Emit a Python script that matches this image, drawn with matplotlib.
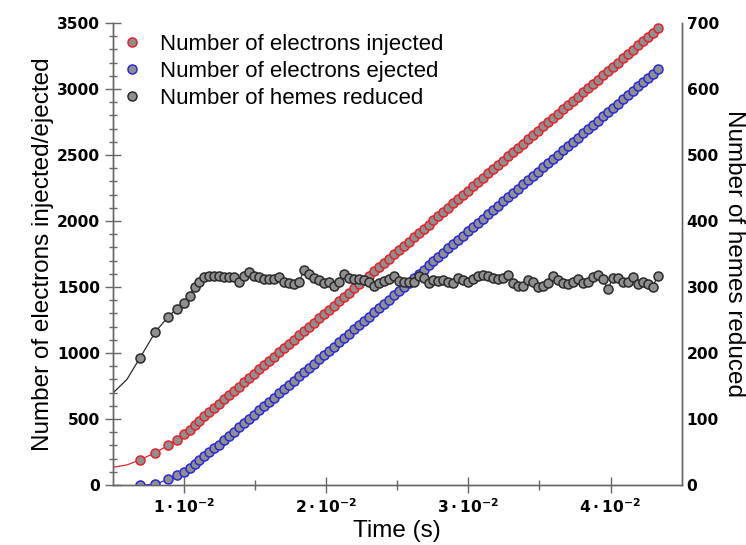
import matplotlib
matplotlib.use("Agg")
import matplotlib.pyplot as plt
from matplotlib.lines import Line2D
import numpy as np

# ---- data -------------------------------------------------------------
time_ms = [6.9, 8.0, 8.9, 9.5, 10.0, 10.4,
           10.75, 11.10, 11.45, 11.80, 12.15, 12.50, 12.85, 13.20, 13.55, 13.90,
           14.25, 14.60, 14.95, 15.30, 15.65, 16.00, 16.35, 16.70, 17.05, 17.40,
           17.75, 18.10, 18.45, 18.80, 19.15, 19.50, 19.85, 20.20, 20.55, 20.90,
           21.25, 21.60, 21.95, 22.30, 22.65, 23.00, 23.35, 23.70, 24.05, 24.40,
           24.75, 25.10, 25.45, 25.80, 26.15, 26.50, 26.85, 27.20, 27.55, 27.90,
           28.25, 28.60, 28.95, 29.30, 29.65, 30.00, 30.35, 30.70, 31.05, 31.40,
           31.75, 32.10, 32.45, 32.80, 33.15, 33.50, 33.85, 34.20, 34.55, 34.90,
           35.25, 35.60, 35.95, 36.30, 36.65, 37.00, 37.35, 37.70, 38.05, 38.40,
           38.75, 39.10, 39.45, 39.80, 40.15, 40.50, 40.85, 41.20, 41.55, 41.90,
           42.25, 42.60, 42.95, 43.30]

injected = [190, 245, 301, 341, 384, 419,
            455, 487, 520, 552, 584, 617, 649, 681, 714, 746,
            778, 810, 843, 875, 907, 940, 972, 1004, 1036, 1069,
            1101, 1133, 1166, 1198, 1230, 1263, 1295, 1327, 1359, 1392,
            1424, 1456, 1489, 1521, 1553, 1586, 1618, 1650, 1682, 1715,
            1747, 1779, 1812, 1844, 1876, 1908, 1941, 1973, 2005, 2038,
            2070, 2102, 2135, 2167, 2199, 2231, 2264, 2296, 2328, 2361,
            2393, 2425, 2458, 2490, 2522, 2554, 2587, 2619, 2651, 2684,
            2716, 2748, 2781, 2813, 2845, 2877, 2910, 2942, 2974, 3007,
            3039, 3071, 3103, 3136, 3168, 3200, 3233, 3265, 3297, 3330,
            3362, 3394, 3426, 3459]

ejected = [0, 5, 45, 76, 101, 131,
           159, 190, 217, 248, 278, 303, 339, 371, 404, 436,
           468, 500, 533, 565, 597, 630, 662, 694, 726, 759,
           791, 823, 856, 888, 920, 953, 985, 1017, 1049, 1082,
           1114, 1146, 1179, 1211, 1243, 1276, 1308, 1340, 1372, 1405,
           1437, 1469, 1502, 1534, 1566, 1598, 1631, 1663, 1695, 1728,
           1760, 1792, 1825, 1857, 1889, 1921, 1954, 1986, 2018, 2051,
           2083, 2115, 2148, 2180, 2212, 2244, 2277, 2309, 2341, 2374,
           2406, 2438, 2471, 2503, 2535, 2567, 2600, 2632, 2664, 2697,
           2729, 2761, 2793, 2826, 2858, 2890, 2923, 2955, 2987, 3020,
           3052, 3084, 3116, 3149]

hemes = [192, 232, 255, 267, 276, 287,
         300, 307, 315, 317, 317, 316, 315, 315, 315, 308,
         317, 322, 317, 315, 312, 312, 312, 315, 308, 306,
         305, 307, 326, 320, 314, 310, 306, 307, 301, 307,
         319, 313, 312, 312, 311, 308, 302, 306, 309, 312,
         317, 309, 307, 307, 307, 317, 314, 306, 310, 309,
         310, 307, 306, 313, 310, 307, 312, 317, 318, 316,
         313, 312, 314, 318, 306, 302, 302, 310, 308, 300,
         301, 306, 317, 310, 306, 304, 307, 312, 306, 308,
         315, 318, 312, 297, 313, 313, 308, 308, 315, 305,
         307, 304, 300, 316]

# start of the model curves, before the first sample
lead_time_ms = [5.0, 6.0]
lead_injected = [134, 152]
lead_hemes = [139, 160]

x_tick_values = [0.01, 0.02, 0.03, 0.04]
x_tick_labels = [r"$\mathbf{1\cdot10^{-2}}$", r"$\mathbf{2\cdot10^{-2}}$",
                 r"$\mathbf{3\cdot10^{-2}}$", r"$\mathbf{4\cdot10^{-2}}$"]
x_minor_ticks = [0.015, 0.025, 0.035]

# ---- style --------------------------------------------------------------
RED = "#e3232b"
BLUE = "#2a2ad6"
DARK = "#2b2b2b"
FILL = "#8f8f8f"
SPINE = "#666666"
LABEL_FONT = "Liberation Sans"
TICK_FONT = "DejaVu Sans"
plt.rcParams["mathtext.fontset"] = "dejavusans"

t = np.array(time_ms) / 1000.0
t_line = np.array(lead_time_ms + time_ms) / 1000.0

fig = plt.figure(figsize=(7.46, 5.45), dpi=100)
ax = fig.add_axes([0.1511, 0.1101, 0.7627, 0.8477])
ax2 = ax.twinx()

marker_kw = dict(marker="o", markersize=6.5, markeredgewidth=1.1,
                 markerfacecolor=FILL)

ax.plot(t_line, lead_injected + injected, color=RED, lw=0.9, zorder=2)
ax.plot(t, injected, ls="none", markeredgecolor=RED, zorder=3, **marker_kw)
ax.plot(t, ejected, color=BLUE, lw=0.9, markeredgecolor=BLUE, zorder=3,
        **marker_kw)

ax2.plot(t_line, lead_hemes + hemes, color=DARK, lw=0.9, zorder=2)
ax2.plot(t, hemes, ls="none", markeredgecolor=DARK, zorder=3, **marker_kw)

# ---- axes -------------------------------------------------------------
ax.set_xlim(0.005, 0.045)
ax.set_ylim(0, 3500)
ax2.set_ylim(0, 700)

for a in (ax, ax2):
    a.spines["top"].set_visible(False)
    for s in ("left", "right", "bottom"):
        a.spines[s].set_color(SPINE)
        a.spines[s].set_linewidth(1.0)

ax.set_xticks(x_tick_values)
ax.set_xticklabels(x_tick_labels)
ax.set_xticks(x_minor_ticks, minor=True)
ax.set_yticks(np.arange(0, 3501, 500))
ax.set_yticks(np.arange(0, 3501, 100), minor=True)
ax2.set_yticks(np.arange(0, 701, 100))

ax.tick_params(axis="x", which="major", direction="inout", length=11,
               width=1.0, color=SPINE, pad=3.0)
ax.tick_params(axis="x", which="minor", direction="inout", length=7,
               width=1.0, color=SPINE)
ax.tick_params(axis="y", which="major", direction="inout", length=12,
               width=1.0, color=SPINE, pad=3.0)
ax.tick_params(axis="y", which="minor", direction="inout", length=6,
               width=1.0, color=SPINE)
ax2.tick_params(axis="y", which="both", length=0, pad=3.5)

for lab in ax.get_xticklabels() + ax.get_yticklabels() + ax2.get_yticklabels():
    lab.set_fontfamily(TICK_FONT)
    lab.set_fontweight("bold")
    lab.set_fontsize(11.2)

ax.set_xlabel("Time (s)", fontfamily=LABEL_FONT, fontsize=17.5)
ax.xaxis.set_label_coords(0.5, -0.075)
ax.set_ylabel("Number of electrons injected/ejected", fontfamily=LABEL_FONT,
              fontsize=17.5)
ax.yaxis.set_label_coords(-0.104, 0.5)
ax2.set_ylabel("Number of hemes reduced", fontfamily=LABEL_FONT,
               fontsize=17.5, rotation=270, va="bottom")
ax2.yaxis.set_label_coords(1.073, 0.5)

# ---- legend -------------------------------------------------------------
handles = [
    Line2D([], [], ls="none", markeredgecolor=RED, **marker_kw),
    Line2D([], [], ls="none", markeredgecolor=BLUE, **marker_kw),
    Line2D([], [], ls="none", markeredgecolor=DARK, **marker_kw),
]
labels = ["Number of electrons injected", "Number of electrons ejected",
          "Number of hemes reduced"]
ax2.legend(handles, labels, loc="upper left", bbox_to_anchor=(-0.002, 0.991),
           frameon=False, prop={"family": LABEL_FONT, "size": 16},
           handlelength=1.2, handletextpad=0.7, labelspacing=0.28,
           borderaxespad=0.0, borderpad=0.3)

fig.savefig("out.png", dpi=100)
